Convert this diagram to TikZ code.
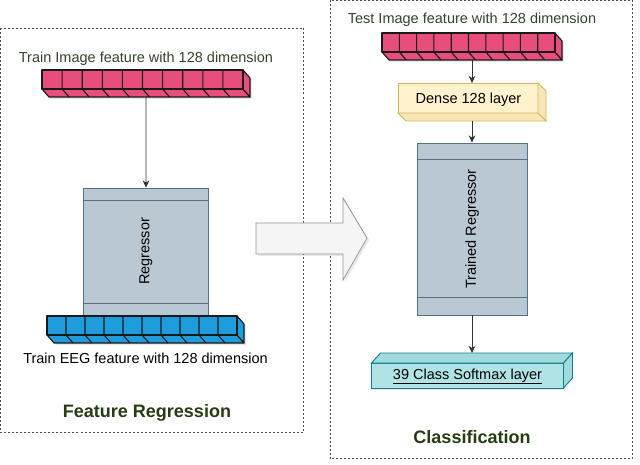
\documentclass[tikz,border=0pt]{standalone}
\usepackage{fontspec}
\setmainfont{Liberation Sans}
\usetikzlibrary{positioning}
\usetikzlibrary{arrows.meta}
\usetikzlibrary{shadows}
\definecolor{featpink}{HTML}{E84E7B}
\definecolor{featblue}{HTML}{1E9CDC}
\definecolor{regfill}{HTML}{BAC8D3}
\definecolor{regline}{HTML}{56718A}
\definecolor{densefill}{HTML}{FFF2CC}
\definecolor{denseside}{HTML}{F6E6B8}
\definecolor{denseline}{HTML}{D6B656}
\definecolor{softfill}{HTML}{B0E3E6}
\definecolor{softside}{HTML}{A2D9DD}
\definecolor{softline}{HTML}{0E8088}
\definecolor{titlegreen}{HTML}{263D14}
\definecolor{labelgreen}{HTML}{34452A}
\tikzset{>={Stealth[width=6.5pt,length=7pt,inset=2pt]}}
\tikzset{
  conn/.style={draw=black!80, line width=0.8pt, ->},
  panel/.style={draw=black!70, line width=0.9pt, dash pattern=on 2pt off 2pt},
  hollow/.style={inner sep=0pt, outer sep=0pt},
  barline/.style={draw=black!90, line width=1.1pt, line join=round},
  caption/.style={font=\fontsize{14.5}{17}\selectfont},
  heading/.style={font=\fontsize{18}{21}\selectfont\bfseries, text=titlegreen},
  regbox/.style={draw=regline, fill=regfill, line width=0.9pt, inner sep=0pt},
  softshadow/.style={drop shadow={opacity=0.18, shadow xshift=2pt, shadow yshift=-2pt}},
}
% 10-cell feature vector seen from below right
\newcommand{\featbar}[5]{% name, left, top, cell width, colour
  \node[hollow, anchor=north west, minimum width={10*#4+7}, minimum height=27] (#1) at (#2,#3) {};
  \path[barline, softshadow, fill=#5] (#1.north west) ++(0,19) -- ++({10*#4},0) -- ++(7,8) -- ++({-10*#4},0) -- cycle;
  \path[barline, softshadow, fill=#5] (#1.north west) ++({10*#4},0) -- ++(7,8) -- ++(0,19) -- ++(-7,-8) -- cycle;
  \path[barline, fill=#5] (#1.north west) rectangle ++({10*#4},19);
  \foreach \k in {1,...,9}
    \draw[barline] (#1.north west) ++({\k*#4},0) -- ++(0,19) -- ++(7,8);
}

\begin{document}
\begin{tikzpicture}[x=1pt, y=-1pt]
    \fill[white] (0,0) rectangle (640,465);
    \useasboundingbox (0,0) rectangle (640,465);

    % the two stages
    \draw[panel] (0.5,28) rectangle (303,432);
    \draw[panel] (330,0.5) rectangle (632,458.5);
    \path[draw=black!40, fill=black!4, line width=0.8pt, softshadow]
        (256,223) -- (343,223) -- (343,198) -- (367,238) -- (343,280) -- (343,254) -- (256,254) -- cycle;

    % feature regression
    \node[regbox, minimum width=125, minimum height=127,
          label={[caption, rotate=90]center:Regressor}] (regressor) at (146,251.5) {};
    \draw[regline, line width=0.9pt] ([yshift=-13pt]regressor.north west) -- ([yshift=-13pt]regressor.north east);
    \draw[regline, line width=0.9pt] ([yshift=12pt]regressor.south west) -- ([yshift=12pt]regressor.south east);

    \featbar{trainimg}{42}{70}{20.1}{featpink}
    \featbar{traineeg}{47}{316}{19}{featblue}
    \node[caption, text=labelgreen, above=1pt of trainimg] (trainimglabel) {Train Image feature with 128 dimension};
    \node[caption, below=6pt of traineeg] (traineeglabel) {Train EEG feature with 128 dimension};
    \node[heading, anchor=base] (regtitle) at (147,417) {Feature Regression};

    % classification
    \featbar{testimg}{382}{33}{17.3}{featpink}
    \node[caption, text=labelgreen, above=3pt of testimg] (testimglabel) {Test Image feature with 128 dimension};

    \node[hollow, minimum width=148, minimum height=38] (dense) at (472,102) {};
    \path[draw=denseline, fill=densefill, line width=0.9pt, softshadow] (dense.north west) rectangle ++(140,30);
    \path[draw=denseline, fill=denseside, line width=0.9pt] (dense.north west) ++(140,0) -- ++(8,8) -- ++(0,30) -- ++(-8,-8) -- cycle;
    \path[draw=denseline, fill=denseside, line width=0.9pt] (dense.north west) ++(0,30) -- ++(140,0) -- ++(8,8) -- ++(-140,0) -- cycle;
    \node[caption] (densetext) at ([xshift=-3.5pt, yshift=2.5pt]dense.center) {Dense 128 layer};

    \node[regbox, minimum width=110, minimum height=172,
          label={[caption, rotate=90]center:Trained Regressor}] (trained) at (472,229) {};
    \draw[regline, line width=0.9pt] ([yshift=-17pt]trained.north west) -- ([yshift=-17pt]trained.north east);
    \draw[regline, line width=0.9pt] ([yshift=18pt]trained.south west) -- ([yshift=18pt]trained.south east);

    \node[hollow, minimum width=201, minimum height=35] (softmax) at (472,370.5) {};
    \path[draw=softline, fill=softfill, line width=0.9pt, softshadow] (softmax.north west) ++(0,10) rectangle ++(192,25);
    \path[draw=softline, fill=softside, line width=0.9pt] (softmax.north west) ++(0,10) -- ++(9,-10) -- ++(192,0) -- ++(-9,10) -- cycle;
    \path[draw=softline, fill=softside, line width=0.9pt] (softmax.north west) ++(192,10) -- ++(9,-10) -- ++(0,25) -- ++(-9,10) -- cycle;
    \node[caption] (softtext) at ([xshift=-4.5pt, yshift=-6pt]softmax.center) {\underline{39 Class Softmax layer}};
    \node[heading, anchor=base] (clstitle) at (472,443) {Classification};

    \path[conn] (trainimg) -- (regressor);
    \path[conn] (testimg) -- (dense);
    \path[conn] (dense) -- (trained);
    \path[conn] (trained) -- (softmax);
\end{tikzpicture}
\end{document}
